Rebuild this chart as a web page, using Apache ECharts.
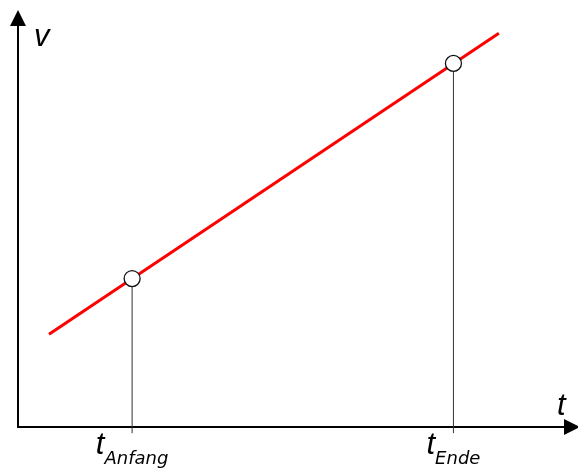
<!DOCTYPE html>
<html><head><meta charset="utf-8">
<script src="https://cdn.jsdelivr.net/npm/echarts@6/dist/echarts.min.js"></script>
<style>html,body{margin:0;padding:0;background:#fff}#c{width:578px;height:471px}</style>
</head><body><div id="c"></div>
<script>
// Line v(t): two end points of the red line
const lineT = [0.56, 8.68];
const lineV = [2.27, 9.63];
// Marked instants
const markNames = ['Anfang', 'Ende'];
const markT = [2.06, 7.86];
const markV = [3.63, 8.89];
const dropBottom = -0.15;

const chart = echarts.init(document.getElementById('c'), null, {renderer: 'canvas'});
const font = '"Liberation Sans", Arial, sans-serif';
const subFont = '"DejaVu Sans", "Liberation Sans", sans-serif';
const labelMap = {};
markT.forEach((t, i) => labelMap[t] = markNames[i]);

chart.setOption({
  animation: false,
  grid: {left: 18, right: 6, top: 18, bottom: 44, containLabel: false, outerBoundsMode: 'none'},
  xAxis: {
    type: 'value', min: 0, max: 10,
    splitLine: {show: false},
    axisTick: {show: false},
    axisLine: {lineStyle: {color: '#000', width: 2}, symbol: ['none', 'triangle'], symbolSize: [16, 16]},
    axisLabel: {
      customValues: markT,
      margin: 3,
      hideOverlap: false,
      formatter: v => '{t|t}{s|' + (labelMap[v] || '') + '}',
      rich: {
        t: {fontFamily: font, fontStyle: 'italic', fontSize: 31, color: '#000', verticalAlign: 'top', lineHeight: 30},
        s: {fontFamily: subFont, fontStyle: 'italic', fontSize: 18, color: '#000', verticalAlign: 'middle', lineHeight: 58}
      }
    }
  },
  yAxis: {
    type: 'value', min: 0, max: 10,
    splitLine: {show: false},
    axisTick: {show: false},
    axisLabel: {show: false},
    axisLine: {lineStyle: {color: '#000', width: 2}, symbol: ['none', 'triangle'], symbolSize: [16, 16]}
  },
  graphic: [
    {type: 'text', left: 34, top: 22, style: {text: 'v', font: 'italic 31px ' + font, fill: '#000'}},
    {type: 'text', left: 557, top: 391, style: {text: 't', font: 'italic 31px ' + font, fill: '#000'}}
  ],
  series: [
    ...markT.map((t, i) => ({
      type: 'line', clip: false, silent: true, symbol: 'none',
      lineStyle: {color: '#333', width: 1},
      data: [[t, dropBottom], [t, markV[i]]], z: 2
    })),
    {
      type: 'line', symbol: 'none', silent: true,
      lineStyle: {color: '#ff0000', width: 3},
      data: lineT.map((t, i) => [t, lineV[i]]), z: 3
    },
    {
      type: 'scatter', symbol: 'circle', symbolSize: 16, silent: true,
      itemStyle: {color: '#fff', borderColor: '#111', borderWidth: 1.3, opacity: 1},
      data: markT.map((t, i) => [t, markV[i]]), z: 4
    }
  ]
});
</script></body></html>
